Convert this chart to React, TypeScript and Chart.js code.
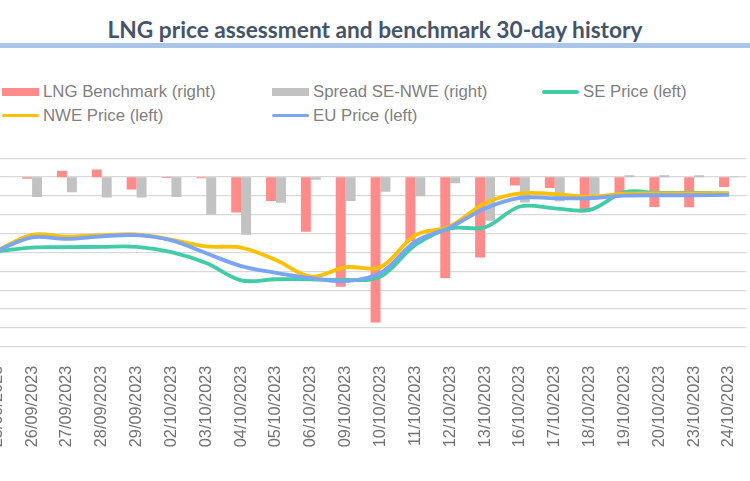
import React, { useEffect, useRef } from "react";
import { Chart, registerables } from "chart.js";

Chart.register(...registerables);

const dates = [
  "25/09/2023", "26/09/2023", "27/09/2023", "28/09/2023", "29/09/2023",
  "02/10/2023", "03/10/2023", "04/10/2023", "05/10/2023", "06/10/2023",
  "09/10/2023", "10/10/2023", "11/10/2023", "12/10/2023", "13/10/2023",
  "16/10/2023", "17/10/2023", "18/10/2023", "19/10/2023", "20/10/2023",
  "23/10/2023", "24/10/2023",
];

// right axis (EUR/MWh)
const lngBenchmark = [
  0, -0.04, 0.17, 0.2, -0.33, -0.02, -0.03, -0.94, -0.63, -1.45, -2.91,
  -3.86, -1.7, -2.68, -2.13, -0.22, -0.29, -0.92, -0.45, -0.79, -0.8, -0.26,
];
const spreadSeNwe = [
  0, -0.53, -0.4, -0.54, -0.54, -0.53, -1.0, -1.53, -0.68, -0.07, -0.63,
  -0.39, -0.51, -0.16, -1.16, -0.67, -0.64, -0.48, 0.05, 0.05, 0.05, 0.02,
];

// left axis (EUR/MWh)
const sePrice = [
  35.3, 36.3, 36.4, 36.5, 36.5, 35.1, 32.2, 27.6, 27.9, 27.9, 27.7,
  28.6, 37.0, 41.4, 41.7, 47.2, 46.7, 46.3, 51.0, 50.8, 50.8, 50.7,
];
const nwePrice = [
  35.5, 39.7, 39.2, 39.6, 39.8, 38.4, 36.6, 36.3, 33.0, 28.6, 31.1,
  31.1, 39.6, 42.0, 48.1, 50.7, 50.5, 49.8, 50.6, 50.7, 50.7, 50.7,
];
const euPrice = [
  35.5, 39.0, 38.6, 39.3, 39.6, 38.2, 34.8, 31.4, 29.6, 28.2, 27.4,
  29.6, 37.9, 41.7, 46.7, 49.5, 49.4, 49.4, 50.1, 50.2, 50.2, 50.3,
];

const leftMin = 10;
const leftMax = 60;
const leftStep = 5;
const rightMin = -4.5;
const rightMax = 0.5;

const RED = "#FF8B8B";
const GREY = "#C2C2C2";
const GREEN = "#41CBA6";
const YELLOW = "#FFC000";
const BLUE = "#7AA5F7";

const legendFont = "'Liberation Sans', Arial, sans-serif";

function LegendItem(props: { x: number; y: number; color: string; kind: "box" | "line"; label: string }) {
  const { x, y, color, kind, label } = props;
  return (
    <div style={{ position: "absolute", left: x, top: y - 10, height: 20 }}>
      {kind === "box" ? (
        <div style={{ position: "absolute", left: 0, top: 6, width: 37, height: 8, background: color }} />
      ) : (
        <div style={{ position: "absolute", left: 0, top: 8.2, width: 37, height: 3.6, background: color, borderRadius: 2 }} />
      )}
      <div
        style={{
          position: "absolute",
          left: 41,
          top: 0,
          lineHeight: "20px",
          fontFamily: legendFont,
          fontSize: 16.8,
          color: "#7F7F7F",
          whiteSpace: "nowrap",
        }}
      >
        {label}
      </div>
    </div>
  );
}

export default function App() {
  const canvasRef = useRef<HTMLCanvasElement | null>(null);

  useEffect(() => {
    if (!canvasRef.current) return;
    const lineDefaults = { borderWidth: 3.8, pointRadius: 0, tension: 0.35, yAxisID: "y" };
    const chart = new Chart(canvasRef.current, {
      type: "bar",
      data: {
        labels: dates,
        datasets: [
          {
            type: "bar",
            label: "LNG Benchmark (right)",
            data: lngBenchmark,
            backgroundColor: RED,
            yAxisID: "y1",
            order: 10,
            categoryPercentage: 0.57,
            barPercentage: 1,
          },
          {
            type: "bar",
            label: "Spread SE-NWE (right)",
            data: spreadSeNwe,
            backgroundColor: GREY,
            yAxisID: "y1",
            order: 11,
            categoryPercentage: 0.57,
            barPercentage: 1,
          },
          {
            type: "line",
            label: "SE Price (left)",
            data: sePrice,
            borderColor: GREEN,
            backgroundColor: GREEN,
            order: 3,
            ...lineDefaults,
          },
          {
            type: "line",
            label: "NWE Price (left)",
            data: nwePrice,
            borderColor: YELLOW,
            backgroundColor: YELLOW,
            order: 2,
            ...lineDefaults,
          },
          {
            type: "line",
            label: "EU Price (left)",
            data: euPrice,
            borderColor: BLUE,
            backgroundColor: BLUE,
            order: 1,
            ...lineDefaults,
          },
        ] as any,
      },
      options: {
        responsive: false,
        animation: false,
        devicePixelRatio: 1,
        layout: { padding: { left: 9.8, right: 13.6, top: 18.3, bottom: 0 } },
        plugins: {
          legend: { display: false },
          tooltip: { enabled: false },
          title: { display: false },
        },
        scales: {
          x: {
            grid: { display: false },
            border: { display: false },
            ticks: {
              autoSkip: false,
              maxRotation: 90,
              minRotation: 90,
              padding: 11,
              color: "#737373",
              font: { family: legendFont, size: 16.3 },
            },
            afterFit: (scale: any) => {
              scale.height = 134.3;
            },
          },
          y: {
            position: "left",
            min: leftMin,
            max: leftMax,
            ticks: { display: false, stepSize: leftStep },
            grid: { color: "#D9D9D9", lineWidth: 1.3, drawTicks: false },
            border: { display: false },
            afterFit: (scale: any) => {
              scale.width = 0;
            },
          },
          y1: {
            position: "right",
            min: rightMin,
            max: rightMax,
            ticks: { display: false },
            grid: { display: false, drawTicks: false },
            border: { display: false },
            afterFit: (scale: any) => {
              scale.width = 0;
            },
          },
        },
      } as any,
    });
    return () => chart.destroy();
  }, []);

  return (
    <div
      style={{
        position: "fixed",
        left: 0,
        top: 0,
        width: 750,
        height: 481,
        overflow: "hidden",
        background: "#ffffff",
      }}
    >
      <div
        style={{
          position: "absolute",
          left: 0,
          top: 15,
          width: 750,
          textAlign: "center",
          lineHeight: "30px",
          fontFamily: "Lato, 'Open Sans', sans-serif",
          fontWeight: 700,
          fontSize: 22.7,
          color: "#44546A",
          whiteSpace: "nowrap",
        }}
      >
        LNG price assessment and benchmark 30-day history
      </div>
      <div style={{ position: "absolute", left: 0, top: 43, width: 750, height: 5, background: "#A9C6E9" }} />

      <LegendItem x={2} y={92} color={RED} kind="box" label="LNG Benchmark (right)" />
      <LegendItem x={272} y={92} color={GREY} kind="box" label="Spread SE-NWE (right)" />
      <LegendItem x={542} y={92} color={GREEN} kind="line" label="SE Price (left)" />
      <LegendItem x={2} y={115.5} color={YELLOW} kind="line" label="NWE Price (left)" />
      <LegendItem x={272} y={115.5} color={BLUE} kind="line" label="EU Price (left)" />

      <canvas
        ref={canvasRef}
        width={790}
        height={341}
        style={{ position: "absolute", left: -30, top: 140, width: 790, height: 341 }}
      />
    </div>
  );
}
